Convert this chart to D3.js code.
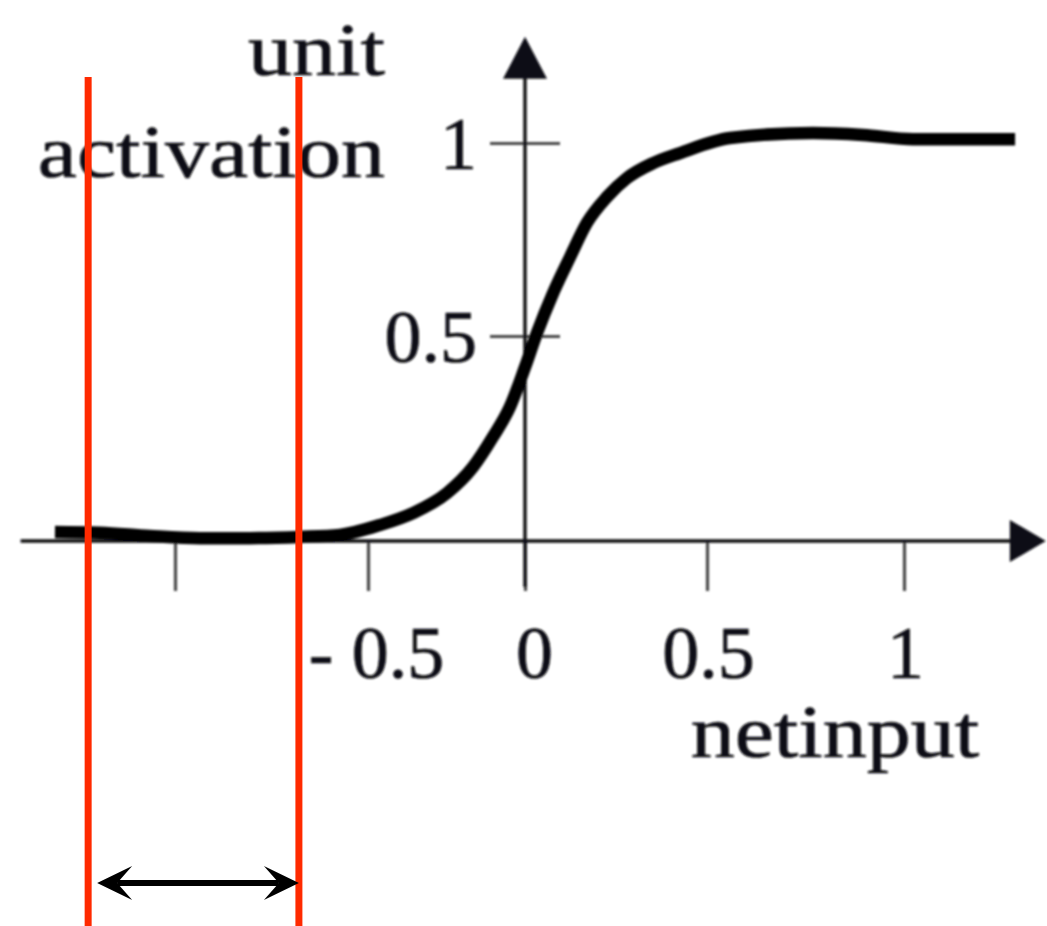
<!DOCTYPE html>
<html>
<head>
<meta charset="utf-8">
<script src="https://cdn.jsdelivr.net/npm/d3@7"></script>
<style>
  html, body { margin: 0; padding: 0; background: #fff; }
  svg { display: block; }
</style>
</head>
<body>
<svg id="chart" width="1047" height="926"></svg>
<script>
// Sigmoid-like activation curve: net input vs. unit activation
const netInput = [-1.311, -1.194, -1.065, -0.935, -0.806, -0.676, -0.573, -0.462, -0.357, -0.248,
                  -0.166, -0.102, -0.048, 0.0, 0.033, 0.077, 0.124, 0.170, 0.225, 0.280,
                  0.352, 0.426, 0.558, 0.769, 0.896, 1.023, 1.282];
const activation = [0.022, 0.020, 0.012, 0.007, 0.007, 0.010, 0.015, 0.039, 0.068, 0.117,
                    0.180, 0.254, 0.327, 0.424, 0.508, 0.611, 0.705, 0.793, 0.860, 0.909,
                    0.948, 0.974, 1.013, 1.026, 1.021, 1.010, 1.010];

const xTickValues = [-1, -0.5, 0, 0.5, 1];
const xTickLabels = ["", "- 0.5", "0", "0.5", "1"];
const yTickValues = [0.5, 1];
const yTickLabels = ["0.5", "1"];

// extent of the drawn axes (data units)
const xAxisExtent = [-1.40, 1.36];
const yAxisExtent = [-0.112, 1.275];

// interval bracketed by the red guide lines
const markers = [-1.225, -0.679];

const svg = d3.select("#chart");
const W = 1047, H = 926;

// piecewise scales follow the hand-drawn spacing of the ticks
const x = d3.scaleLinear().domain([-1, -0.5, 0, 0.5, 1]).range([175, 368, 525, 707, 904]);
const y = d3.scaleLinear().domain([0, 0.5, 1]).range([541, 336, 143]);

const defs = svg.append("defs");
defs.append("filter").attr("id", "soft")
  .attr("x", "-5%").attr("y", "-5%").attr("width", "110%").attr("height", "110%")
  .append("feGaussianBlur").attr("stdDeviation", 1.0);

const ink = "#0d0d14";
const serif = "'Liberation Serif', 'Times New Roman', serif";
const fontSize = 74;
const wordStretch = 1.19;

const plot = svg.append("g").attr("filter", "url(#soft)");

// ---- x axis (ticks hang below the line)
const xAxis = d3.axisBottom(x)
  .tickValues(xTickValues)
  .tickFormat((d, i) => xTickLabels[i])
  .tickSizeInner(50)
  .tickSizeOuter(0)
  .tickPadding(34);

const gx = plot.append("g")
  .attr("transform", `translate(0,${y(0)})`)
  .call(xAxis);
gx.select(".domain").remove();
gx.selectAll(".tick line").attr("stroke", "#4a4a4a").attr("stroke-width", 3.2);
gx.selectAll(".tick text")
  .attr("font-family", serif).attr("font-size", fontSize)
  .attr("fill", ink).attr("stroke", ink).attr("stroke-width", 0.7)
  .attr("dx", (d, i) => i === 1 ? 8 : (i === 2 ? 9 : 1));

// ---- y axis (ticks cross the line)
const yAxis = d3.axisLeft(y)
  .tickValues(yTickValues)
  .tickFormat((d, i) => yTickLabels[i])
  .tickSize(0)
  .tickPadding(48);

const gy = plot.append("g")
  .attr("transform", `translate(${x(0)},0)`)
  .call(yAxis);
gy.select(".domain").remove();
gy.selectAll(".tick line")
  .attr("x1", -35).attr("x2", 35)
  .attr("stroke", "#4a4a4a").attr("stroke-width", 3.2);
gy.selectAll(".tick text")
  .attr("font-family", serif).attr("font-size", fontSize)
  .attr("fill", ink).attr("stroke", ink).attr("stroke-width", 0.7)
  .attr("dy", "0.34em");

// ---- axis lines with arrowheads
const y0 = y(0), x0 = x(0);
const xEnd = x(xAxisExtent[1]), yTop = y(yAxisExtent[1]);
const headLen = 36, headHalf = 21;

plot.append("line")
  .attr("x1", x(xAxisExtent[0])).attr("x2", xEnd - headLen + 2)
  .attr("y1", y0).attr("y2", y0)
  .attr("stroke", ink).attr("stroke-width", 3.6);
plot.append("path")
  .attr("d", `M${xEnd},${y0} L${xEnd - headLen},${y0 - headHalf} L${xEnd - headLen},${y0 + headHalf} Z`)
  .attr("fill", ink);

plot.append("line")
  .attr("x1", x0).attr("x2", x0)
  .attr("y1", y(yAxisExtent[0])).attr("y2", yTop + headLen + 2)
  .attr("stroke", ink).attr("stroke-width", 3.4);
plot.append("path")
  .attr("d", `M${x0},${yTop} L${x0 - headHalf - 1},${yTop + headLen + 6} L${x0 + headHalf + 1},${yTop + headLen + 6} Z`)
  .attr("fill", ink);

// ---- activation curve
const points = netInput.map((v, i) => [v, activation[i]]);
plot.append("path")
  .datum(points)
  .attr("d", d3.line().x(d => x(d[0])).y(d => y(d[1])).curve(d3.curveMonotoneX))
  .attr("fill", "none")
  .attr("stroke", "#000")
  .attr("stroke-width", 12.5)
  .attr("stroke-linecap", "butt")
  .attr("stroke-linejoin", "round");

// ---- axis titles (serif words, slightly wide set)
function word(text, px, py, anchor) {
  plot.append("g")
    .attr("transform", `translate(${px},${py}) scale(${wordStretch},1)`)
    .append("text")
    .attr("text-anchor", anchor)
    .attr("font-family", serif)
    .attr("font-size", fontSize)
    .attr("fill", ink)
    .attr("stroke", ink)
    .attr("stroke-width", 0.7)
    .text(text);
}
word("unit", 385, 75, "end");
word("activation", 385, 177, "end");
word("netinput", 835, 757, "middle");

// ---- red guide lines and the interval arrow
const red = "#ff2a00";
const guides = svg.append("g");
guides.selectAll("line")
  .data(markers)
  .join("line")
  .attr("x1", d => x(d)).attr("x2", d => x(d))
  .attr("y1", 77).attr("y2", H)
  .attr("stroke", red)
  .attr("stroke-width", 7);

const arrowY = 883;
const aL = x(markers[0]) + 9, aR = x(markers[1]);
const hl = 35, hh = 17, notch = 20;
guides.append("line")
  .attr("x1", aL + notch).attr("x2", aR - notch)
  .attr("y1", arrowY).attr("y2", arrowY)
  .attr("stroke", "#000").attr("stroke-width", 6);
guides.append("path")
  .attr("d", `M${aL},${arrowY} L${aL + hl},${arrowY - hh} L${aL + notch},${arrowY} L${aL + hl},${arrowY + hh} Z`)
  .attr("fill", "#000");
guides.append("path")
  .attr("d", `M${aR},${arrowY} L${aR - hl},${arrowY - hh} L${aR - notch},${arrowY} L${aR - hl},${arrowY + hh} Z`)
  .attr("fill", "#000");
</script>
</body>
</html>
